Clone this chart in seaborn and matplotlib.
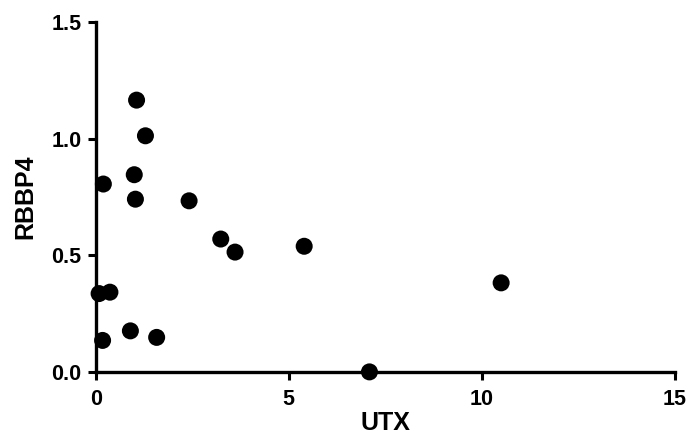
import matplotlib
matplotlib.use("Agg")
import matplotlib.pyplot as plt
import seaborn as sns
import pandas as pd

utx = [1.06, 1.29, 1.00, 0.20, 1.03, 2.42, 3.24, 3.61, 0.09, 0.37, 0.18, 0.90, 1.58, 5.40, 10.50, 7.09]
rbbp4 = [1.166, 1.013, 0.846, 0.806, 0.741, 0.734, 0.570, 0.514, 0.336, 0.342, 0.135, 0.176, 0.148, 0.539, 0.382, 0.0]
x_ticks = [0, 5, 10, 15]
y_ticks = [0.0, 0.5, 1.0, 1.5]
x_tick_labels = ["0", "5", "10", "15"]
y_tick_labels = ["0.0", "0.5", "1.0", "1.5"]

df = pd.DataFrame({"UTX": utx, "RBBP4": rbbp4})

sns.set_theme(style="ticks")
plt.rcParams["font.family"] = ["Liberation Sans", "DejaVu Sans"]

fig = plt.figure(figsize=(6.88, 4.37), dpi=100)
ax = fig.add_axes([0.139, 0.149, 0.842, 0.800])

sns.scatterplot(data=df, x="UTX", y="RBBP4", ax=ax, color="black", s=150,
                edgecolor="none", clip_on=False, zorder=5, legend=False)

ax.set_xlim(0, 15)
ax.set_ylim(0, 1.5)
ax.set_xticks(x_ticks)
ax.set_xticklabels(x_tick_labels)
ax.set_yticks(y_ticks)
ax.set_yticklabels(y_tick_labels)
for lab in ax.get_xticklabels() + ax.get_yticklabels():
    lab.set_fontweight("bold")
    lab.set_fontsize(15.5)
    lab.set_color("black")
ax.tick_params(axis="x", direction="out", length=6, width=2.2, color="black", pad=6)
ax.tick_params(axis="y", direction="out", length=6, width=2.2, color="black", pad=4)
ax.set_xlabel("UTX", fontsize=18, fontweight="bold", labelpad=1, color="black")
ax.set_ylabel("RBBP4", fontsize=18, fontweight="bold", labelpad=10, color="black")

for side in ["top", "right"]:
    ax.spines[side].set_visible(False)
for side in ["left", "bottom"]:
    ax.spines[side].set_linewidth(2.4)
    ax.spines[side].set_color("black")

fig.savefig("out.png", dpi=100)
